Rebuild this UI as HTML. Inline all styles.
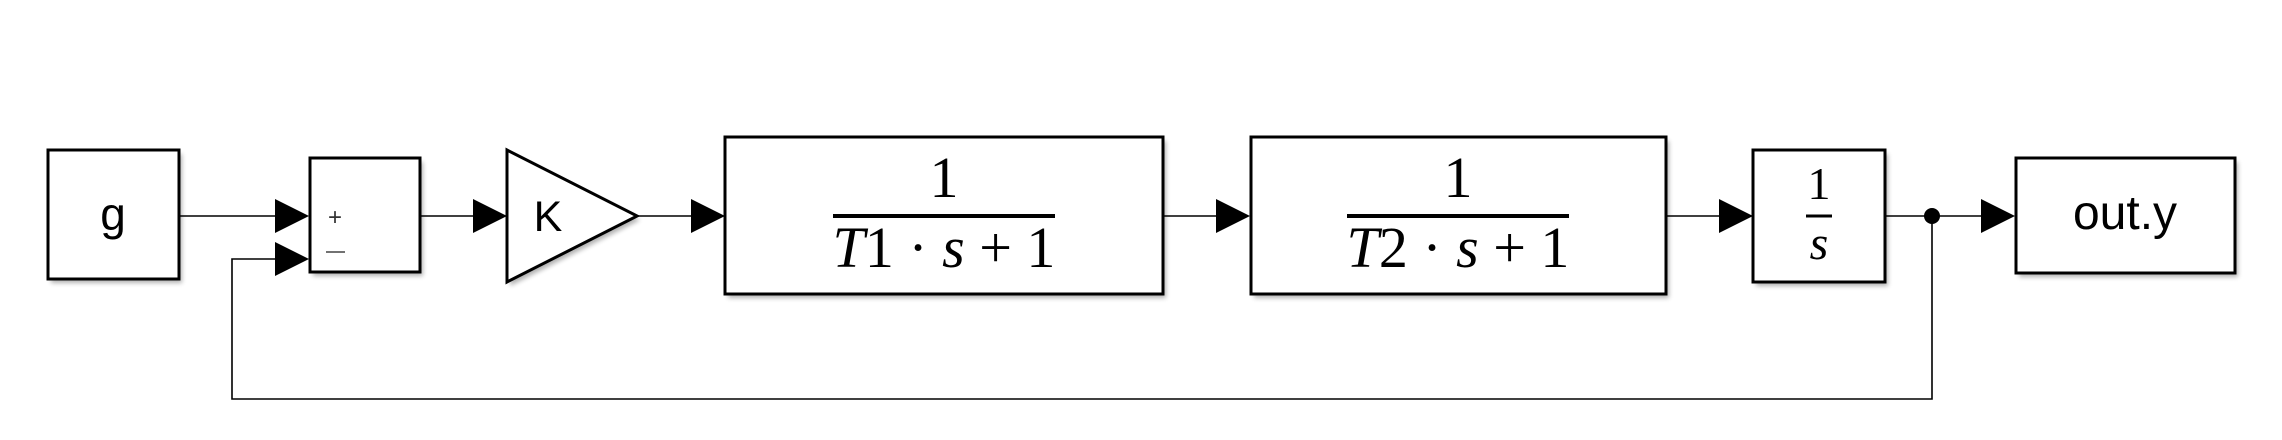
<!DOCTYPE html>
<html><head><meta charset="utf-8"><style>
html,body{margin:0;padding:0;background:#fff;}
svg{display:block;}
.blk{fill:#fff;stroke:#000;stroke-width:3;}
.sh{fill:#000;opacity:0.3;filter:url(#blur);}
.ln{stroke:#000;stroke-width:1.6;fill:none;}
.sans{font-family:"Liberation Sans",sans-serif;}
.ser{font-family:"Liberation Serif",serif;}
</style></head><body>
<svg width="2282" height="440" viewBox="0 0 2282 440" xmlns="http://www.w3.org/2000/svg">
<defs><filter id="blur" x="-10%" y="-10%" width="130%" height="130%"><feGaussianBlur stdDeviation="2.5"/></filter></defs>

<g>
<rect class="sh" x="51" y="154" width="131" height="129"/>
<rect class="sh" x="313" y="162" width="110" height="114"/>
<polygon class="sh" points="510,154 640,220 510,286"/>
<rect class="sh" x="728" y="141" width="438" height="157"/>
<rect class="sh" x="1254" y="141" width="415" height="157"/>
<rect class="sh" x="1756" y="154" width="132" height="132"/>
<rect class="sh" x="2019" y="162" width="219" height="115"/>
</g>

<g>
<line class="ln" x1="179" y1="216" x2="280" y2="216"/>
<line class="ln" x1="420" y1="216" x2="476" y2="216"/>
<line class="ln" x1="637" y1="216" x2="694" y2="216"/>
<line class="ln" x1="1163" y1="216" x2="1218" y2="216"/>
<line class="ln" x1="1666" y1="216" x2="1722" y2="216"/>
<line class="ln" x1="1885" y1="216" x2="1983" y2="216"/>
<polyline class="ln" points="1932,216 1932,399 232,399 232,259 280,259"/>
<circle cx="1932" cy="216" r="8" fill="#000"/>
</g>

<g fill="#000">
<polygon points="275,199 309,216 275,233"/>
<polygon points="275,242 309,259 275,276"/>
<polygon points="473,199 507,216 473,233"/>
<polygon points="691,199 725,216 691,233"/>
<polygon points="1216,199 1250,216 1216,233"/>
<polygon points="1719,199 1753,216 1719,233"/>
<polygon points="1981,199 2015,216 1981,233"/>
</g>

<g>
<rect class="blk" x="48" y="150" width="131" height="129"/>
<text class="sans" x="113" y="230" font-size="46" text-anchor="middle">g</text>
</g>

<g>
<rect class="blk" x="310" y="158" width="110" height="114"/>
<text class="sans" x="335" y="225" font-size="24" text-anchor="middle" fill="#333">+</text>
<line x1="326" y1="252" x2="345" y2="252" stroke="#444" stroke-width="1.6"/>
</g>

<g>
<polygon class="blk" points="507,150 637,216 507,282"/>
<text class="sans" x="548" y="231" font-size="43" text-anchor="middle">K</text>
</g>

<g>
<rect class="blk" x="725" y="137" width="438" height="157"/>
<text class="ser" x="944" y="197" font-size="58" text-anchor="middle">1</text>
<line x1="833" y1="216" x2="1055" y2="216" stroke="#000" stroke-width="4"/>
<text class="ser" x="944" y="267" font-size="58" text-anchor="middle"><tspan font-style="italic">T</tspan>1 · <tspan font-style="italic">s</tspan> + 1</text>
</g>

<g>
<rect class="blk" x="1251" y="137" width="415" height="157"/>
<text class="ser" x="1458" y="197" font-size="58" text-anchor="middle">1</text>
<line x1="1347" y1="216" x2="1569" y2="216" stroke="#000" stroke-width="4"/>
<text class="ser" x="1458" y="267" font-size="58" text-anchor="middle"><tspan font-style="italic">T</tspan>2 · <tspan font-style="italic">s</tspan> + 1</text>
</g>

<g>
<rect class="blk" x="1753" y="150" width="132" height="132"/>
<text class="ser" x="1819" y="199" font-size="46" text-anchor="middle">1</text>
<line x1="1806" y1="216" x2="1832" y2="216" stroke="#000" stroke-width="3"/>
<text class="ser" x="1819" y="259" font-size="48" font-style="italic" text-anchor="middle">s</text>
</g>

<g>
<rect class="blk" x="2016" y="158" width="219" height="115"/>
<text class="sans" x="2125" y="229" font-size="48" text-anchor="middle">out.y</text>
</g>
</svg>
</body></html>
